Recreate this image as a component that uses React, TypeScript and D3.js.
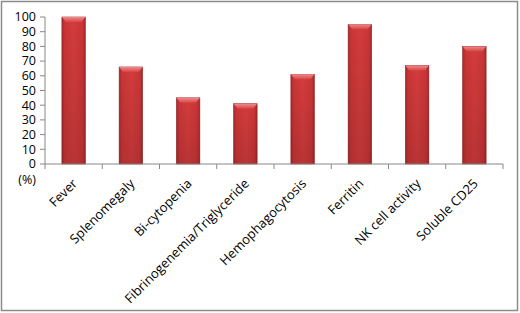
import React from "react";
import * as d3 from "d3";

const categories = ["Fever", "Splenomegaly", "Bi-cytopenia", "Fibrinogenemia/Triglyceride", "Hemophagocytosis", "Ferritin", "NK cell activity", "Soluble CD25"];
const values = [100, 66, 45, 41, 61, 95, 67, 80];
const yTicks = [0, 10, 20, 30, 40, 50, 60, 70, 80, 90, 100];

export default function App() {
  const W = 520, H = 313;
  const left = 45, right = 503, top = 17, bottom = 164;
  const x = d3.scaleBand<string>().domain(categories).range([left, right]).paddingInner(0.59).paddingOuter(0.295);
  const xb = d3.scaleBand<string>().domain(categories).range([left, right]);
  const y = d3.scaleLinear().domain([0, 100]).range([bottom, top]);
  const font = "'Open Sans', sans-serif";
  return (
    <svg width={W} height={H} style={{ position: "absolute", left: 0, top: 0 }}>
      <defs>
        <linearGradient id="hg" x1="0" x2="1" y1="0" y2="0">
          <stop offset="0" stopColor="#a82a2b" />
          <stop offset="0.12" stopColor="#c93536" />
          <stop offset="0.5" stopColor="#d33c3d" />
          <stop offset="0.88" stopColor="#c93536" />
          <stop offset="1" stopColor="#a42829" />
        </linearGradient>
        <linearGradient id="vg" x1="0" x2="0" y1="0" y2="1">
          <stop offset="0" stopColor="#000" stopOpacity="0" />
          <stop offset="1" stopColor="#000" stopOpacity="0.12" />
        </linearGradient>
        <linearGradient id="tg" x1="0" x2="0" y1="0" y2="1">
          <stop offset="0" stopColor="#f08a8a" />
          <stop offset="1" stopColor="#d84445" />
        </linearGradient>
      </defs>
      <rect x={1.5} y={1.5} width={516} height={309} fill="#fff" stroke="#8c8c8c" strokeWidth={1.5} />
      {categories.map((c, i) => {
        const bx = x(c)!, bw = x.bandwidth(), by = y(values[i]), bh = bottom - by;
        return (
          <g key={c}>
            <rect x={bx} y={by} width={bw} height={bh} fill="url(#hg)" stroke="#8e2223" strokeWidth={0.6} />
            <rect x={bx} y={by} width={bw} height={bh} fill="url(#vg)" />
            <path d={`M${bx},${by} L${bx + bw},${by} L${bx + bw - 4},${by + 5} L${bx + 4},${by + 5} Z`} fill="url(#tg)" />
          </g>
        );
      })}
      <line x1={left} x2={left} y1={top} y2={bottom} stroke="#888" />
      <line x1={left} x2={right} y1={bottom} y2={bottom} stroke="#888" />
      {yTicks.map(t => (
        <g key={t}>
          <line x1={left - 5} x2={left} y1={y(t)} y2={y(t)} stroke="#888" />
          <text x={36} y={y(t)} dy="0.35em" textAnchor="end" fontFamily={font} fontSize={12.5} fill="#000">{t}</text>
        </g>
      ))}
      {categories.map((c, i) => (
        <line key={c} x1={xb(c)!} x2={xb(c)!} y1={bottom} y2={bottom + 5} stroke="#888" />
      ))}
      <line x1={right} x2={right} y1={bottom} y2={bottom + 5} stroke="#888" />
      <text x={36} y={184} textAnchor="end" fontFamily={font} fontSize={12.5} fill="#000">(%)</text>
      {categories.map(c => {
        const cx = xb(c)! + xb.bandwidth() / 2 - 2;
        const cy = bottom + 14;
        return (
          <text key={c} transform={`translate(${cx},${cy}) rotate(-45)`} textAnchor="end" dy="0.7em" fontFamily={font} fontSize={13} fill="#000">{c}</text>
        );
      })}
    </svg>
  );
}
